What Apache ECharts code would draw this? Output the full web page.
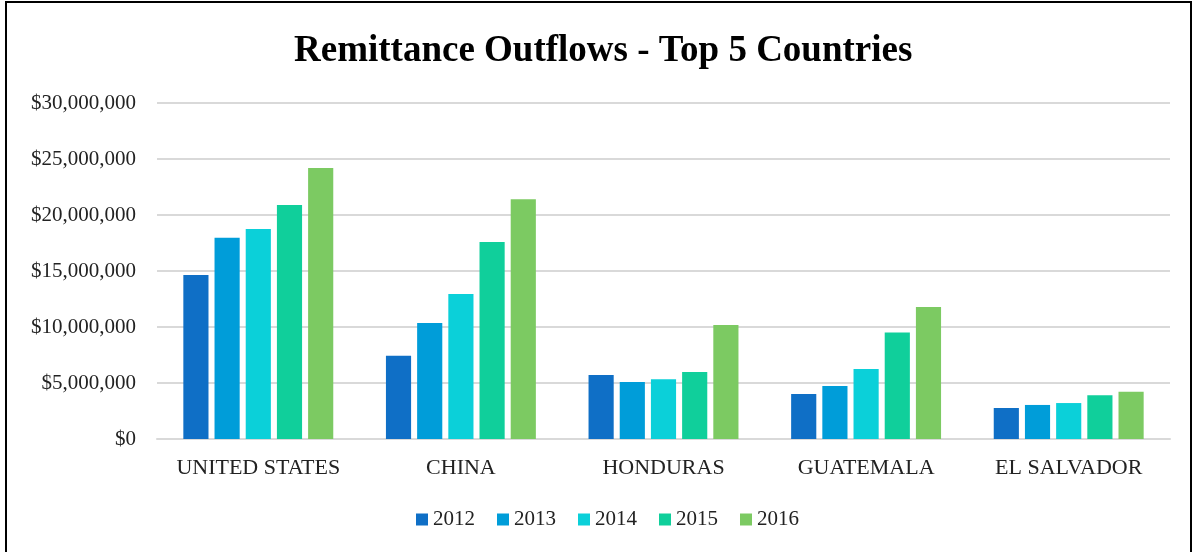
<!DOCTYPE html>
<html>
<head>
<meta charset="utf-8">
<script src="https://cdn.jsdelivr.net/npm/echarts@6/dist/echarts.min.js"></script>
<style>
  html, body { margin: 0; padding: 0; background: #fff; }
  #frame { position: absolute; left: 5px; top: 1px; width: 1183px; height: 600px; border: 2px solid #000; }
  #chart { position: absolute; left: 0; top: 0; width: 1193px; height: 552px; }
</style>
</head>
<body>
<div id="frame"></div>
<div id="chart"></div>
<script>
// Remittance outflows (USD) for the five largest sending countries
const countries = ['UNITED STATES', 'CHINA', 'HONDURAS', 'GUATEMALA', 'EL SALVADOR'];
const years = ['2012', '2013', '2014', '2015', '2016'];
const outflows2012 = [14640000, 7440000, 5710000, 4020000, 2770000];
const outflows2013 = [17970000, 10360000, 5090000, 4730000, 3040000];
const outflows2014 = [18750000, 12950000, 5330000, 6250000, 3210000];
const outflows2015 = [20900000, 17590000, 5980000, 9520000, 3900000];
const outflows2016 = [24200000, 21400000, 10180000, 11790000, 4220000];
const yearColors = ['#0F6FC6', '#009DD9', '#0BD0D9', '#10CF9B', '#7CCA62'];

const seriesValues = [outflows2012, outflows2013, outflows2014, outflows2015, outflows2016];
const serif = '"Liberation Serif", "DejaVu Serif", serif';

const chart = echarts.init(document.getElementById('chart'));
chart.setOption({
  animation: false,
  color: yearColors,
  title: {
    text: 'Remittance Outflows - Top 5 Countries',
    left: 289,
    top: 28,
    textStyle: { fontFamily: serif, fontWeight: 'bold', fontSize: 37, color: '#000' }
  },
  legend: {
    bottom: 17,
    left: 411,
    itemWidth: 12,
    itemHeight: 12,
    itemGap: 22,
    icon: 'rect',
    textStyle: { fontFamily: serif, fontSize: 21, color: '#222' },
    data: years
  },
  grid: { left: 157, right: 23, top: 103, bottom: 113 },
  xAxis: {
    type: 'category',
    data: countries,
    axisLine: { lineStyle: { color: '#d9d9d9', width: 2 } },
    axisTick: { show: false },
    axisLabel: { interval: 0, hideOverlap: false, fontFamily: serif, fontSize: 22, color: '#222', margin: 18 }
  },
  yAxis: {
    type: 'value',
    min: 0,
    max: 30000000,
    interval: 5000000,
    axisLine: { show: false },
    axisTick: { show: false },
    splitLine: { lineStyle: { color: '#d9d9d9', width: 2 } },
    axisLabel: {
      fontFamily: serif,
      fontSize: 21,
      color: '#222',
      margin: 21,
      formatter: v => '$' + v.toLocaleString('en-US')
    }
  },
  series: years.map((y, i) => ({
    name: y,
    type: 'bar',
    data: seriesValues[i],
    barGap: '24%',
    barCategoryGap: '26%'
  }))
});
</script>
</body>
</html>
